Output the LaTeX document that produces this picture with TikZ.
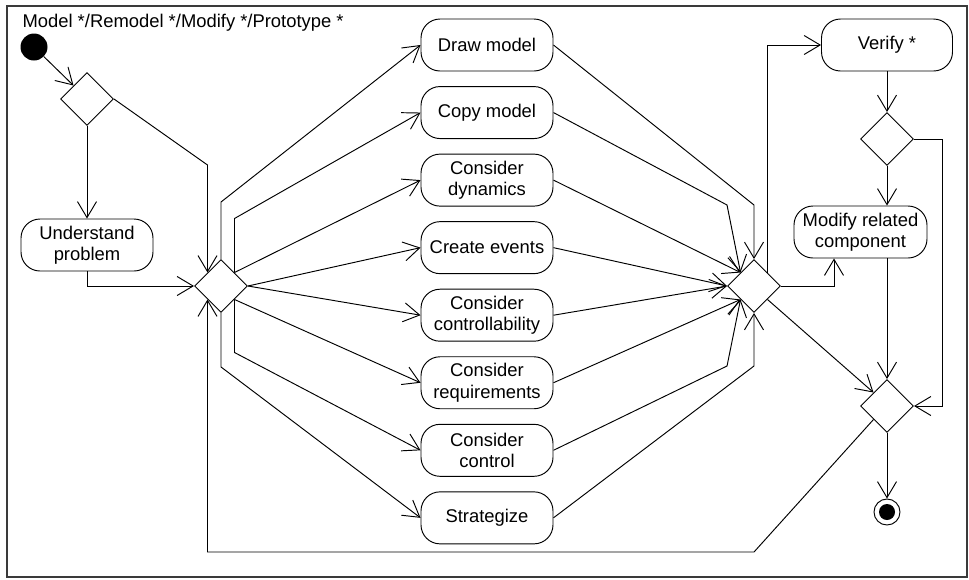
\documentclass[tikz,border=0pt]{standalone}
\usepackage{fontspec}
\setmainfont{Liberation Sans}
\usetikzlibrary{arrows.meta,positioning,shapes.geometric}
\definecolor{ink}{HTML}{000000}
\definecolor{framegray}{HTML}{3A3A3A}

\begin{document}
\begin{tikzpicture}[x=1pt,y=-1pt,
  node distance=14.6pt,
  act/.style={draw=ink,fill=white,rounded corners=19pt,align=center,font=\fontsize{18.4}{21.5}\selectfont,
    minimum width=132pt,minimum height=52pt,inner sep=2pt,line width=0.95pt},
  dec/.style={diamond,draw=ink,fill=white,minimum width=53pt,minimum height=53pt,inner sep=0pt,line width=0.95pt},
  initnode/.style={circle,fill=ink,minimum size=27pt,inner sep=0pt},
  finalnode/.style={circle,draw=ink,fill=white,minimum size=26pt,inner sep=0pt,line width=0.95pt},
  finaldot/.style={circle,fill=ink,minimum size=16pt,inner sep=0pt},
  arr/.style={-{Straight Barb[length=16pt,width=19pt]},draw=ink,line width=0.95pt}]
\useasboundingbox (0,0) rectangle (969,579);
\draw[framegray,line width=1.4pt] (7,6) rectangle (967,577);
\node[anchor=base west,font=\fontsize{18.4}{21.5}\selectfont] (title) at (19,27.5) {Model */Remodel */Modify */Prototype *};
% left: start, first choice, problem
\node[initnode] (start) at (34,47) {};
\node[dec] (d1) at (87,99) {};
\node[act] (under) at (87,245) {Understand\\problem};
\node[dec] (d2) at (221,286) {};
% middle column of activities
\node[act] (drawm) at (487,45) {Draw model};
\node[act,below=of drawm] (copym) {Copy model};
\node[act,below=of copym] (dyn) {Consider\\dynamics};
\node[act,below=of dyn] (events) {Create events};
\node[act,below=of events] (contr) {Consider\\controllability};
\node[act,below=of contr] (reqs) {Consider\\requirements};
\node[act,below=of reqs] (ctrl) {Consider\\control};
\node[act,below=of ctrl] (strat) {Strategize};
\node[dec] (d3) at (754,286) {};
% right: verification
\node[act,minimum width=131pt] (verify) at (887,45) {Verify *};
\node[dec] (d4) at (887,139) {};
\node[act,minimum width=133pt] (modify) at (860.5,232) {Modify related\\component};
\node[dec] (d5) at (887,406) {};
\node[finalnode] (stop) at (887,512) {};
\node[finaldot] (stopdot) at (stop) {};
% flows
\draw[arr] (start) -- (d1.north west); \draw[arr] (d1.south) -- (under.north);
\draw[arr] (d1.east) -- (d2.north west |- 0,165) -- (d2.north west);
\draw[arr] (under.south) |- (d2.west);
\draw[arr] (d2.north) -- ++(0,-57) -- (drawm.west);
\draw[arr] (d2.north east) -- ++(0,-54) -- (copym.west);
\draw[arr] (d2.north east) -- (dyn.west);
\draw[arr] (d2.east) -- (events.west); \draw[arr] (d2.east) -- (contr.west);
\draw[arr] (d2.south east) -- (reqs.west);
\draw[arr] (d2.south east) -- ++(0,53) -- (ctrl.west);
\draw[arr] (d2.south) -- ++(0,54) -- (strat.west);
\draw[arr] (drawm.east) -- (d3.north |- 0,205) -- (d3.north);
\draw[arr] (copym.east) -- (d3.west |- 0,205) -- (d3.north west);
\draw[arr] (dyn.east) -- (d3.north west);
\draw[arr] (events.east) -- (d3.west); \draw[arr] (contr.east) -- (d3.west);
\draw[arr] (reqs.east) -- (d3.south west);
\draw[arr] (ctrl.east) -- (d3.west |- 0,366) -- (d3.south west);
\draw[arr] (strat.east) -- (d3.south |- 0,366) -- (d3.south);
\draw[arr] (d3.north east) |- (verify.west);
\draw[arr] (d3.east) -| ([xshift=-26.5pt]modify.south);
\draw[arr] (d3.south east) -- (d5.north west);
\draw[arr] (verify.south) -- (d4.north);
\draw[arr] (d4.south) -- (d4.south |- modify.north);
\draw[arr] (d4.east) -- ++(28,0) |- (d5.east);
\draw[arr] (d5.north |- modify.south) -- (d5.north);
\draw[arr] (d5.south) -- (stop.north);
\draw[arr] (d5.south west) -- (754,552) -| (d2.south west);
\end{tikzpicture}
\end{document}
